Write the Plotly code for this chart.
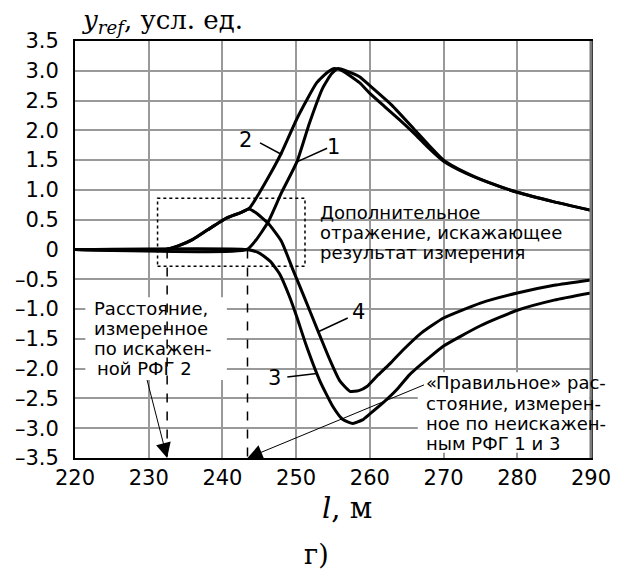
import plotly.graph_objects as go

# ---- data ----
l1 = [220, 243.3, 244.5, 246.2, 248, 250.1, 251.8, 253.6, 254.8, 255.7, 256.8, 258.6, 260, 263, 266, 268, 270, 273, 276, 280, 285, 290]
y1 = [0, 0, 0.15, 0.46, 0.95, 1.47, 2.12, 2.71, 2.95, 3.04, 3.0, 2.9, 2.75, 2.42, 2.02, 1.75, 1.5, 1.29, 1.13, 0.96, 0.8, 0.66]

l2 = [220, 232.3, 234, 236, 238, 240.6, 242.5, 243.7, 245, 246.5, 248, 250.2, 252.8, 254.3, 255.2, 256.3, 258.6, 260, 262, 264, 266, 268, 270, 273, 276, 280, 285, 290]
y2 = [0, 0, 0.06, 0.17, 0.33, 0.53, 0.62, 0.70, 0.95, 1.27, 1.62, 2.22, 2.8, 2.98, 3.04, 3.0, 2.8, 2.62, 2.4, 2.18, 1.95, 1.7, 1.48, 1.28, 1.13, 0.96, 0.8, 0.66]

l3 = [220, 243.3, 245, 246.5, 247.8, 249, 250, 251.4, 253.2, 255, 256.3, 257.7, 259, 260, 262, 263.6, 265.4, 268, 270, 275, 280, 285, 290]
y3 = [0, 0, -0.06, -0.2, -0.42, -0.76, -1.1, -1.62, -2.2, -2.64, -2.85, -2.92, -2.86, -2.76, -2.55, -2.36, -2.1, -1.82, -1.62, -1.28, -1.02, -0.85, -0.73]

l4 = [220, 232.3, 234, 236, 238, 240.6, 242.5, 243.6, 244.5, 246.2, 248, 249.5, 251.1, 252.9, 254.5, 255.9, 257.3, 258.5, 259.6, 261, 262.7, 264.4, 267, 270, 275, 280, 285, 290]
y4 = [0, 0, 0.06, 0.17, 0.33, 0.53, 0.62, 0.68, 0.62, 0.44, 0.14, -0.32, -0.8, -1.35, -1.83, -2.2, -2.38, -2.37, -2.3, -2.12, -1.92, -1.7, -1.4, -1.15, -0.9, -0.73, -0.6, -0.51]

x_ticks = [220, 230, 240, 250, 260, 270, 280, 290]
y_ticks = [3.5, 3.0, 2.5, 2.0, 1.5, 1.0, 0.5, 0, -0.5, -1.0, -1.5, -2.0, -2.5, -3.0, -3.5]
y_ticktext = ["3.5", "3.0", "2.5", "2.0", "1.5", "1.0", "0.5", "0", "–0.5", "–1.0", "–1.5", "–2.0", "–2.5", "–3.0", "–3.5"]

# distances marked by the dashed lines
l_distorted = 232.5
l_true = 243.4

SANS = "DejaVu Sans, Arial, sans-serif"
SERIF = "DejaVu Serif, Liberation Serif, serif"

W, H = 622, 572
PL, PR, PT, PB = 75, 591, 41, 458   # plot area in window pixels
pw, ph = PR - PL, PB - PT


def lx(px):
    return 220 + (px - PL) * 70 / pw


def vy(py):
    return 3.5 - (py - PT) * 7 / ph


fig = go.Figure()
for lxs, yy in [(l1, y1), (l2, y2), (l3, y3), (l4, y4)]:
    fig.add_trace(go.Scatter(x=lxs, y=yy, mode="lines",
                             line=dict(color="black", width=3, shape="spline", smoothing=0.5),
                             showlegend=False, hoverinfo="skip"))

shapes = []
# white boxes behind callout texts
shapes.append(dict(type="rect", xref="x", yref="y", x0=221.4, x1=240.6, y0=-2.19, y1=-0.8,
                   fillcolor="white", line=dict(width=0), layer="between"))
shapes.append(dict(type="rect", xref="x", yref="y", x0=266.5, x1=289.8, y0=-3.41, y1=-2.06,
                   fillcolor="white", line=dict(width=0), layer="between"))
# dotted rectangle
shapes.append(dict(type="rect", xref="x", yref="y", x0=231.2, x1=251.2, y0=-0.28, y1=0.86,
                   line=dict(color="black", width=1.5, dash="dot"), layer="above"))
# dashed verticals
for xv in [l_distorted, l_true]:
    shapes.append(dict(type="line", xref="x", yref="y", x0=xv, x1=xv, y0=0, y1=-3.5,
                       line=dict(color="black", width=1.5, dash="dash"), layer="above"))
# leader lines for curve labels
for (xa, ya, xb, yb) in [(245.1, 1.79, 248.1, 1.59), (254.2, 1.70, 250.1, 1.47),
                         (257.0, -1.15, 253.0, -1.38), (248.8, -2.14, 252.8, -2.08)]:
    shapes.append(dict(type="line", xref="x", yref="y", x0=xa, y0=ya, x1=xb, y1=yb,
                       line=dict(color="black", width=1.5), layer="above"))
# right border (grey)
shapes.append(dict(type="line", xref="paper", yref="paper", x0=1, x1=1, y0=0, y1=1,
                   line=dict(color="#7a7a7a", width=3), layer="above"))
fig.update_layout(shapes=shapes)

ann = []
for txt, xx, yy in [("2", 243.1, 1.84), ("1", 255.0, 1.72), ("4", 258.4, -1.05), ("3", 247.1, -2.16)]:
    ann.append(dict(x=xx, y=yy, xref="x", yref="y", text=txt, showarrow=False,
                    font=dict(family=SANS, size=21, color="black")))

# multi-line callouts, one annotation per line (window pixel rows)
blocks = [
    (["Дополнительное", "отражение, искажающее", "результат измерения"], 318, [212, 232, 253]),
    (["Расстояние,", "измеренное", "по искажен-"], 92, [308, 328, 348]),
    (["Правильное» рас-"], 434, [382]),
    (["стояние, измерен-", "ное по неискажен-", "ным РФГ 1 и 3"], 424, [403, 423, 443]),
]
for lines, px, rows in blocks:
    for t, py in zip(lines, rows):
        ann.append(dict(x=(px - PL) / pw, y=1 - (py - PT) / ph, xref="paper", yref="paper",
                        text=t, showarrow=False, xanchor="left", yanchor="middle", align="left",
                        font=dict(family=SANS, size=18, color="black")))

# text pieces that carry the arrows (text centred at the arrow tail)
ann.append(dict(x=l_distorted, y=-3.5, ax=lx(144), ay=vy(368), xref="x", yref="y", axref="x", ayref="y",
                text="ной РФГ 2", font=dict(family=SANS, size=18, color="black"),
                showarrow=True, arrowhead=2, arrowsize=3, arrowwidth=1, arrowcolor="black"))
ann.append(dict(x=l_true, y=-3.5, ax=lx(431), ay=vy(382), xref="x", yref="y", axref="x", ayref="y",
                text="«", font=dict(family=SANS, size=18, color="black"),
                showarrow=True, arrowhead=2, arrowsize=3, arrowwidth=1, arrowcolor="black"))

# titles (window pixel positions)
for txt, px, py, anchor, size in [
        ("<i>y</i><sub><i>ref</i></sub>, усл. ед.", 80, 21, "left", 26),
        ("<i>l</i>, м", 347, 508, "center", 29),
        ("г)", 316, 554, "center", 27)]:
    ann.append(dict(x=(px - PL) / pw, y=1 - (py - PT) / ph, xref="paper", yref="paper", text=txt,
                    showarrow=False, xanchor=anchor, yanchor="middle",
                    font=dict(family=SERIF, size=size, color="black")))

fig.update_layout(annotations=ann)

fig.update_layout(
    width=W, height=H,
    margin=dict(l=PL, r=W - PR, t=PT, b=H - PB, pad=0),
    plot_bgcolor="white", paper_bgcolor="white",
    xaxis=dict(range=[220, 290], tickvals=x_ticks, ticktext=[str(v) for v in x_ticks],
               showgrid=True, gridcolor="#999999", gridwidth=2, zeroline=False,
               showline=True, linecolor="black", linewidth=2, mirror=True, ticks="", ticklen=0,
               tickfont=dict(family=SANS, size=21, color="black"), ticklabelstandoff=0),
    yaxis=dict(range=[-3.5, 3.5], tickvals=y_ticks, ticktext=y_ticktext,
               showgrid=True, gridcolor="#999999", gridwidth=2, zeroline=False,
               showline=True, linecolor="black", linewidth=2, mirror=True, ticks="", ticklen=0,
               tickfont=dict(family=SANS, size=21, color="black"), ticklabelstandoff=10),
)

fig.write_html("out.html", config={"displayModeBar": False},
               post_script="document.body.style.margin='0px';")
